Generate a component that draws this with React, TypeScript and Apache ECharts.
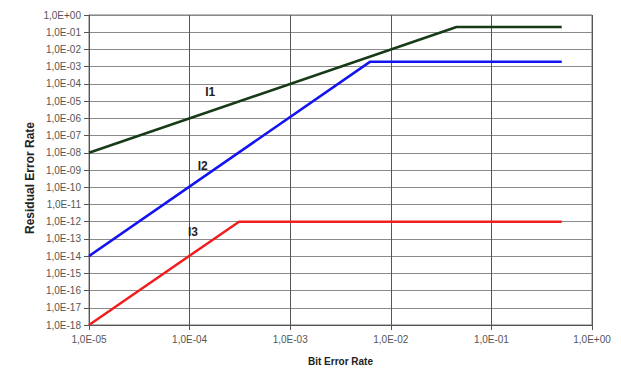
import React, { useEffect, useRef } from "react";
import * as echarts from "echarts";

const seriesNames = ["I1", "I2", "I3"];
const i1Data: [number, number][] = [[1e-5, 1e-8], [0.045, 0.2], [0.5, 0.2]];
const i2Data: [number, number][] = [[1e-5, 1e-14], [6.2e-3, 1.9e-3], [0.5, 1.9e-3]];
const i3Data: [number, number][] = [[1e-5, 1e-18], [3.1e-4, 1e-12], [0.5, 1e-12]];
const labelPositions: [number, number][] = [[1.6e-4, 3.5e-5], [1.35e-4, 1.6e-9], [1.08e-4, 2.5e-13]];
const colors = ["#173a17", "#1414f0", "#f01e1e"];
const xRange = [1e-5, 1];
const yRange = [1e-18, 1];
const xTitle = "Bit Error Rate";
const yTitle = "Residual Error Rate";

function fmt(v: number): string {
  const e = Math.round(Math.log10(v));
  const sign = e < 0 ? "-" : "+";
  const a = Math.abs(e);
  return "1,0E" + sign + (a < 10 ? "0" : "") + a;
}

export default function App() {
  const ref = useRef<HTMLDivElement>(null);
  useEffect(() => {
    const chart = echarts.init(ref.current!, null, { renderer: "svg" });
    const allData = [i1Data, i2Data, i3Data];
    chart.setOption({
      animation: false,
      backgroundColor: "#ffffff",
      grid: { left: 89, right: 29, top: 15, bottom: 45, containLabel: false, show: true, borderColor: "#777", borderWidth: 1 },
      graphic: [
        {
          type: "text",
          x: 30,
          y: 178,
          rotation: Math.PI / 2,
          style: {
            text: yTitle,
            fontFamily: "Liberation Sans, Arial",
            fontSize: 12,
            fontWeight: "bold",
            fill: "#222",
            align: "center",
            verticalAlign: "middle",
          },
        },
      ],
      xAxis: {
        type: "log",
        logBase: 10,
        min: xRange[0],
        max: xRange[1],
        interval: 1,
        name: xTitle,
        nameLocation: "middle",
        nameGap: 31,
        nameTextStyle: { fontFamily: "Liberation Sans, Arial", fontSize: 10, fontWeight: "bold", color: "#222" },
        axisLine: { show: true, lineStyle: { color: "#555", width: 1 } },
        axisTick: { show: true, length: 5, lineStyle: { color: "#555" } },
        axisLabel: {
          formatter: fmt,
          fontFamily: "Liberation Sans, Arial",
          fontSize: 10,
          color: "#555",
          margin: 9,
        },
        splitLine: { show: true, lineStyle: { color: "#555", width: 1 } },
        minorTick: { show: false },
      },
      yAxis: {
        type: "log",
        logBase: 10,
        min: yRange[0],
        max: yRange[1],
        interval: 1,
        axisLine: { show: true, lineStyle: { color: "#555", width: 1 } },
        axisTick: { show: true, length: 5, lineStyle: { color: "#555" }, interval: 0 },
        axisLabel: {
          formatter: fmt,
          fontFamily: "Liberation Sans, Arial",
          fontSize: 10,
          color: "#555",
          margin: 8,
          interval: 0,
        },
        splitLine: { show: true, interval: 0, lineStyle: { color: "#8a8a8a", width: 1 } },
      },
      series: seriesNames.map((n, i) => ({
        name: n,
        type: "line",
        data: allData[i],
        symbol: "none",
        lineStyle: { color: colors[i], width: 2.5 },
        markPoint: {
          symbol: "circle",
          symbolSize: 0,
          data: [{ coord: labelPositions[i], value: n }],
          label: {
            show: true,
            formatter: n,
            position: "inside",
            fontFamily: "Liberation Sans, Arial",
            fontSize: 12,
            fontWeight: "bold",
            color: "#222",
          },
        },
      })),
    });
    return () => chart.dispose();
  }, []);
  return <div ref={ref} style={{ width: 621, height: 371, position: "absolute", left: 0, top: 0 }} />;
}
